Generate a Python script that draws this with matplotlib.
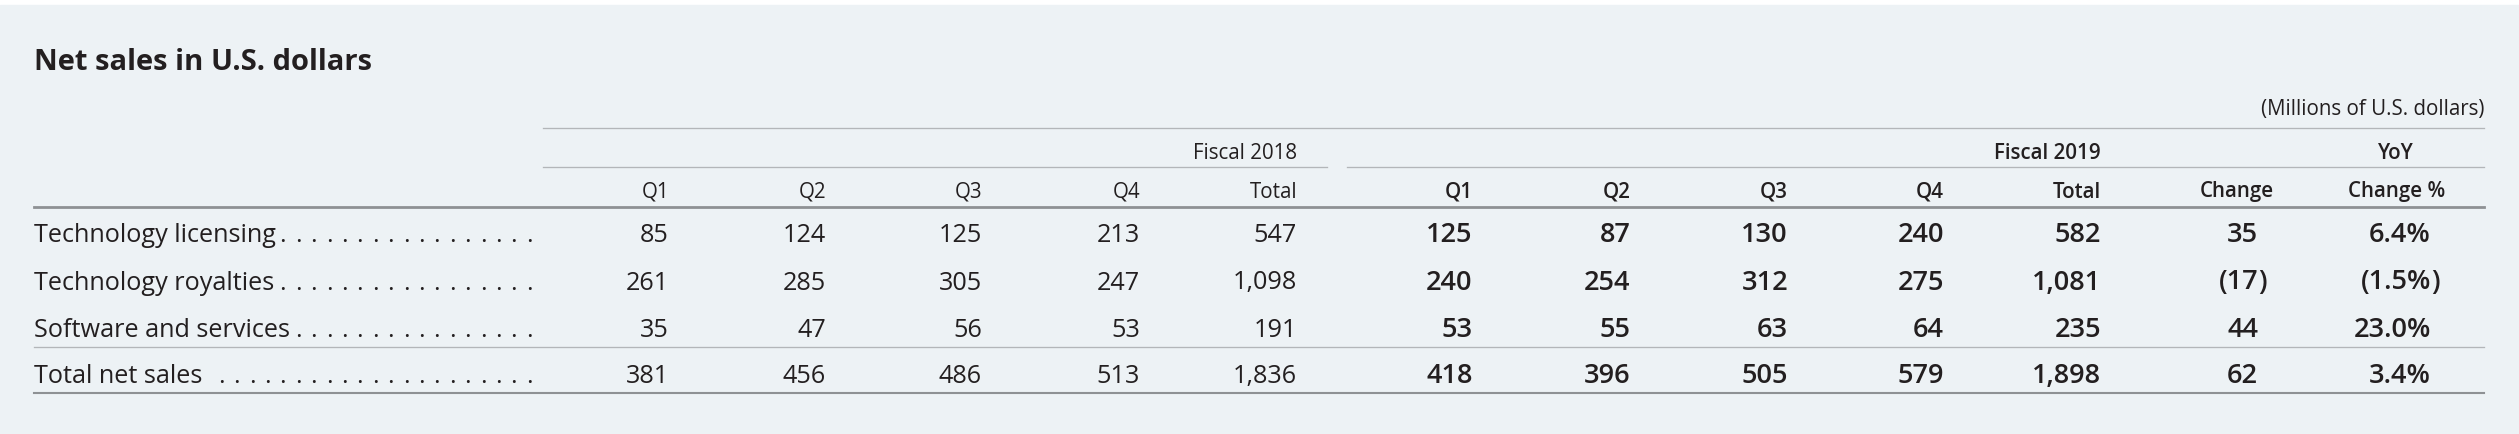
import matplotlib
matplotlib.use("Agg")
import matplotlib.pyplot as plt
from matplotlib import font_manager
from matplotlib.patches import Rectangle

# data (millions of U.S. dollars)
categories = ['Technology licensing', 'Technology royalties',
              'Software and services', 'Total net sales']
quarters = ['Q1', 'Q2', 'Q3', 'Q4']
q_2018 = [[85, 124, 125, 213],
          [261, 285, 305, 247],
          [35, 47, 56, 53],
          [381, 456, 486, 513]]
total_2018 = [547, 1098, 191, 1836]
q_2019 = [[125, 87, 130, 240],
          [240, 254, 312, 275],
          [53, 55, 63, 64],
          [418, 396, 505, 579]]
total_2019 = [582, 1081, 235, 1898]
yoy_change = [35, -17, 44, 62]
yoy_pct = [6.4, -1.5, 23.0, 3.4]

names = {f.name for f in font_manager.fontManager.ttflist}
font = 'Open Sans' if 'Open Sans' in names else 'DejaVu Sans'
plt.rcParams['font.family'] = [font, 'DejaVu Sans']

ink = '#231f20'
bg = '#edf2f5'
rule_light = '#b3b6b9'
rule_dark = '#8e9194'

W, H = 2519, 434
fig = plt.figure(figsize=(W / 100, H / 100), dpi=100)
fig.patch.set_facecolor('white')
ax = fig.add_axes([0, 0, 1, 1])
ax.set_xlim(0, W)
ax.set_ylim(H, 0)
ax.axis('off')
ax.add_patch(Rectangle((0, 5), W, H - 5, color=bg, zorder=0))

fs_title = 21
fs_head = 14.8
fs_row = 18.2
fs_bold = 19.5

left, right = 33.5, 2484
x18 = [669, 826, 982, 1140, 1297]
x19 = [1472.6, 1630.5, 1788, 1944, 2101]
x_chg, x_pct = 2258, 2431
y_rows = [242, 289.5, 336.7, 383]


def fmt(v, pct=False):
    s = f'{abs(v):.1f}%' if pct else f'{abs(v):,}'
    return s


def num(x, y, v, bold=False, pct=False):
    w = 'semibold' if bold else 'normal'
    fs = fs_bold if bold else fs_row
    s = fmt(v, pct)
    if v < 0:
        ax.text(x, y, '(' + s, ha='right', va='baseline', fontsize=fs,
                fontweight=w, color=ink)
        ax.text(x, y, ')', ha='left', va='baseline', fontsize=fs,
                fontweight=w, color=ink)
    else:
        ax.text(x, y, s, ha='right', va='baseline', fontsize=fs,
                fontweight=w, color=ink)


ax.text(left, 70, 'Net sales in U.S. dollars', fontsize=fs_title,
        fontweight='bold', color=ink, va='baseline')
ax.text(right, 115, '(Millions of U.S. dollars)', fontsize=fs_head,
        color=ink, ha='right', va='baseline')

# rules
ax.plot([543, right], [127.7, 127.7], color=rule_light, lw=0.95)
ax.plot([543, 1327], [167, 167], color=rule_light, lw=0.95)
ax.plot([1347, right], [167, 167], color=rule_light, lw=0.95)
ax.plot([left, right], [206.7, 206.7], color=rule_dark, lw=2.0)
ax.plot([left, right], [346.7, 346.7], color=rule_light, lw=0.95)
ax.plot([left, right], [393.3, 393.3], color=rule_dark, lw=1.5)

# header
ax.text(x18[-1], 159, 'Fiscal 2018', fontsize=fs_head, color=ink,
        ha='right', va='baseline')
ax.text(x19[-1], 159, 'Fiscal 2019', fontsize=fs_head, color=ink,
        ha='right', va='baseline', fontweight='semibold')
ax.text(2396, 159, 'YoY', fontsize=fs_head, color=ink,
        ha='center', va='baseline', fontweight='semibold')
for x, lab in zip(x18, quarters + ['Total']):
    ax.text(x, 197.5, lab, fontsize=fs_head, color=ink, ha='right', va='baseline')
for x, lab in zip(x19, quarters + ['Total']):
    ax.text(x, 197.5, lab, fontsize=fs_head, color=ink, ha='right',
            va='baseline', fontweight='semibold')
ax.text(2237, 197.5, 'Change', fontsize=fs_head, color=ink, ha='center',
        va='baseline', fontweight='semibold')
ax.text(2397, 197.5, 'Change %', fontsize=fs_head, color=ink, ha='center',
        va='baseline', fontweight='semibold')

# rows
labels = []
for i, cat in enumerate(categories):
    y = y_rows[i]
    labels.append(ax.text(left, y, cat, fontsize=fs_row, color=ink, va='baseline'))
    for x, v in zip(x18, q_2018[i] + [total_2018[i]]):
        num(x, y, v)
    for x, v in zip(x19, q_2019[i] + [total_2019[i]]):
        num(x, y, v, bold=True)
    num(x_chg, y, yoy_change[i], bold=True)
    num(x_pct, y, yoy_pct[i], bold=True, pct=True)

# dot leaders
fig.canvas.draw()
r = fig.canvas.get_renderer()
inv = ax.transData.inverted()
for t, y in zip(labels, y_rows):
    bb = t.get_window_extent(r)
    end = inv.transform((bb.x1, bb.y0))[0]
    x = 529.3
    while x > end + 5:
        ax.text(x, y, '.', fontsize=fs_row, color=ink, ha='center', va='baseline')
        x -= 15.4

fig.savefig('out.png', dpi=100, facecolor=fig.get_facecolor())
